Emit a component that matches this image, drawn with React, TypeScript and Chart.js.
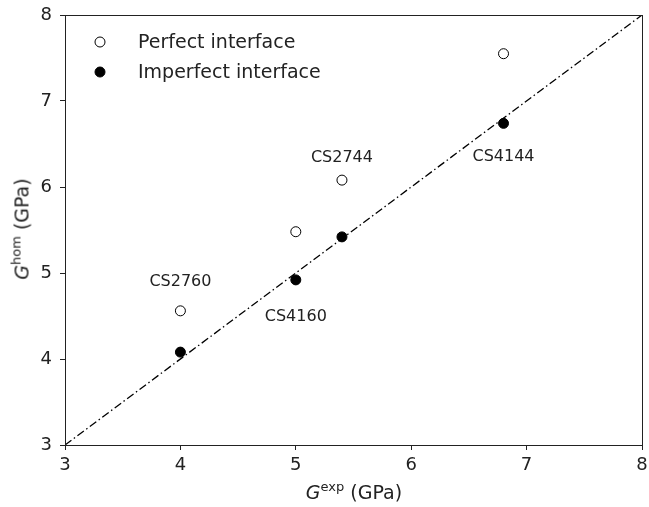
import React, { useEffect, useRef } from "react";
import { Chart, registerables } from "chart.js";

Chart.register(...registerables);

const expValues = [4.0, 5.0, 5.4, 6.8];
const perfectValues = [4.56, 5.48, 6.08, 7.55];
const imperfectValues = [4.08, 4.92, 5.42, 6.74];
const specimenLabels = ["CS2760", "CS4160", "CS2744", "CS4144"];
const labelX = [4.0, 5.0, 5.4, 6.8];
const labelY = [4.9, 4.49, 6.34, 6.35];
const diagonal = [3, 8];
const legendLabels = ["Perfect interface", "Imperfect interface"];

const FONT = "'DejaVu Sans', sans-serif";

const framePlugin = {
  id: "frame",
  afterDatasetsDraw(chart: any) {
    const { ctx, chartArea: a, scales } = chart;
    ctx.save();
    ctx.strokeStyle = "#222";
    ctx.lineWidth = 1;
    ctx.strokeRect(Math.round(a.left) + 0.5, Math.round(a.top) + 0.5, Math.round(a.right - a.left), Math.round(a.bottom - a.top));
    // annotations
    ctx.fillStyle = "#222";
    ctx.font = `16px ${FONT}`;
    ctx.textAlign = "center";
    ctx.textBaseline = "middle";
    specimenLabels.forEach((t, i) => {
      ctx.fillText(t, scales.x.getPixelForValue(labelX[i]), scales.y.getPixelForValue(labelY[i]));
    });
    // legend
    const lx = a.left + 35;
    const ty = a.top + 27;
    ctx.textAlign = "left";
    ctx.font = `19px ${FONT}`;
    legendLabels.forEach((t, i) => {
      const y = ty + i * 30;
      ctx.beginPath();
      ctx.arc(lx, y, 5, 0, Math.PI * 2);
      ctx.fillStyle = i === 0 ? "#fff" : "#000";
      ctx.fill();
      ctx.strokeStyle = "#000";
      ctx.lineWidth = 1;
      ctx.stroke();
      ctx.fillStyle = "#222";
      ctx.fillText(t, lx + 38, y + 1);
    });
    ctx.restore();
  },
};

function zeroPad(s: any) {
  s.paddingTop = 0;
  s.paddingBottom = 0;
  s.paddingLeft = 0;
  s.paddingRight = 0;
}

export default function App() {
  const ref = useRef<HTMLCanvasElement>(null);
  useEffect(() => {
    if (!ref.current) return;
    const axisCommon = {
      type: "linear" as const,
      min: 3,
      max: 8,
      grid: { drawOnChartArea: false, drawTicks: true, tickLength: 5, color: "#222" },
      border: { display: true, color: "#222", width: 1 },
    };
    const chart = new Chart(ref.current, {
      type: "scatter",
      data: {
        datasets: [
          {
            label: legendLabels[0],
            data: expValues.map((x, i) => ({ x, y: perfectValues[i] })),
            pointRadius: 5,
            pointBackgroundColor: "#fff",
            pointBorderColor: "#000",
            pointBorderWidth: 1,
            order: 1,
          },
          {
            label: legendLabels[1],
            data: expValues.map((x, i) => ({ x, y: imperfectValues[i] })),
            pointRadius: 5,
            pointBackgroundColor: "#000",
            pointBorderColor: "#000",
            pointBorderWidth: 1,
            order: 0,
          },
          {
            label: "y = x",
            data: diagonal.map((v) => ({ x: v, y: v })),
            showLine: true,
            pointRadius: 0,
            borderColor: "#000",
            borderWidth: 1.3,
            borderDash: [8, 3, 1.5, 3],
            order: 10,
          } as any,
        ],
      },
      options: {
        responsive: false,
        animation: false,
        layout: { padding: { top: 15, right: 7, left: 0, bottom: 0 } },
        plugins: { legend: { display: false }, tooltip: { enabled: false } },
        scales: {
          x: {
            ...axisCommon,
            ticks: { stepSize: 1, color: "#222", font: { family: FONT, size: 18 }, padding: 5 },
            afterFit: (s: any) => { s.height = 62; zeroPad(s); },
          },
          y: {
            ...axisCommon,
            ticks: { stepSize: 1, color: "#222", font: { family: FONT, size: 18 }, padding: 8 },
            afterFit: (s: any) => { s.width = 65; zeroPad(s); },
          },
        } as any,
      },
      plugins: [framePlugin],
    });
    return () => chart.destroy();
  }, []);

  const titleStyle: React.CSSProperties = {
    position: "absolute",
    fontFamily: FONT,
    fontSize: 19,
    color: "#222",
    whiteSpace: "nowrap",
    lineHeight: "22px",
  };
  const sup: React.CSSProperties = { fontSize: 13, position: "relative", top: -8 };

  return (
    <div style={{ position: "absolute", left: 0, top: 0, width: 649, height: 507, background: "#fff" }}>
      <canvas ref={ref} width={649} height={507} style={{ display: "block" }} />
      <div style={{ ...titleStyle, left: 354, top: 481, transform: "translateX(-50%)" }}>
        <i>G</i>
        <span style={sup}>exp</span> (GPa)
      </div>
      <div style={{ ...titleStyle, left: 23, top: 229, transform: "translate(-50%, -50%) rotate(-90deg)" }}>
        <i>G</i>
        <span style={sup}>hom</span> (GPa)
      </div>
    </div>
  );
}
